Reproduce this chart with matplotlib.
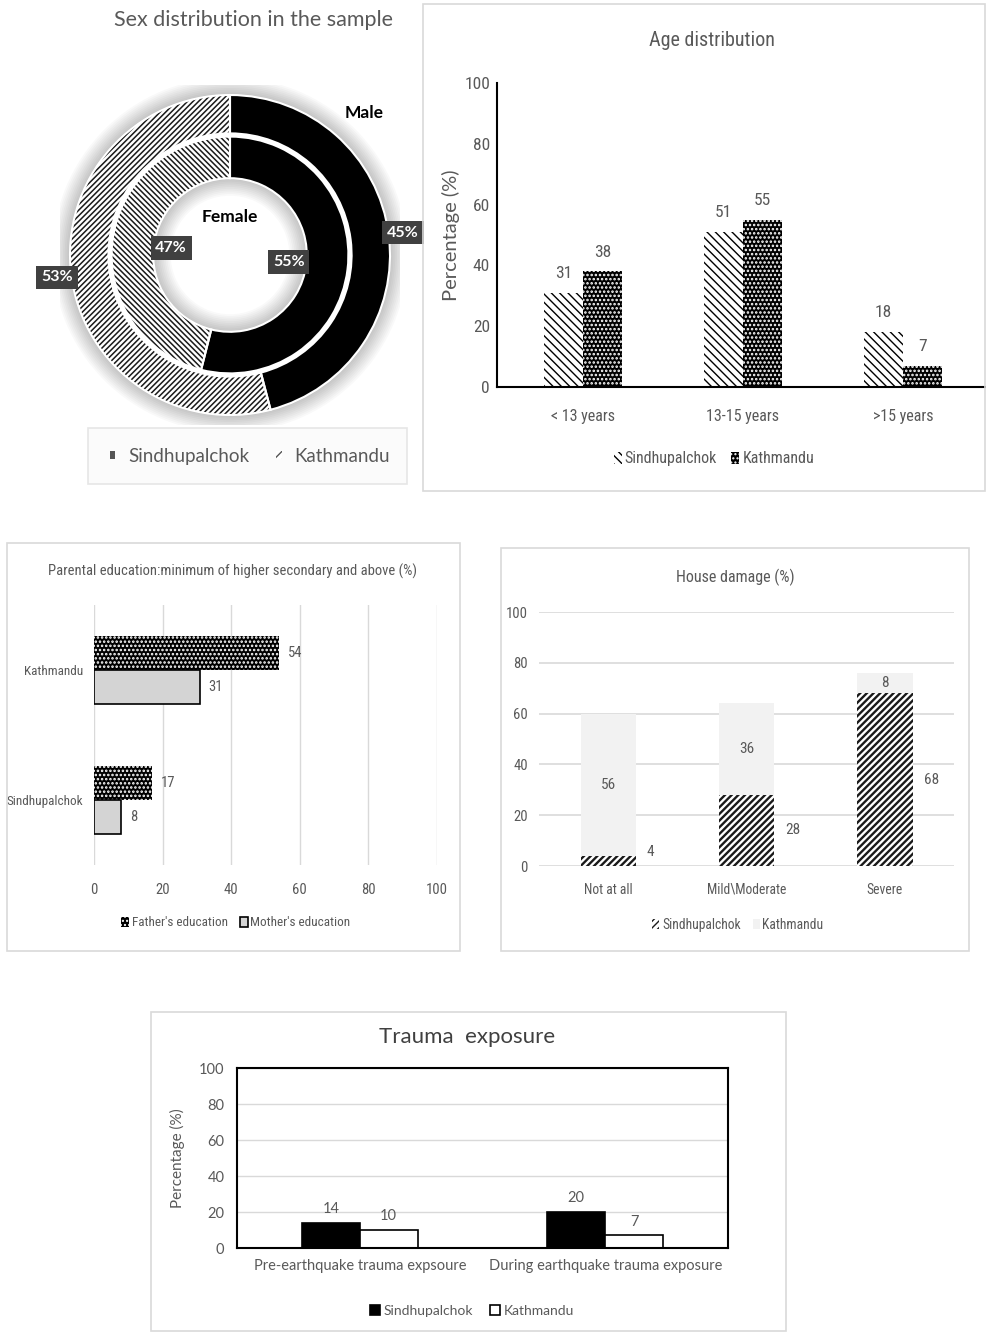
import matplotlib
matplotlib.use("Agg")
import matplotlib.pyplot as plt
import numpy as np
from matplotlib.patches import Rectangle, Wedge, Patch

# ---------------- data ----------------
sex_labels = ["Male", "Female"]
outer_pct = [45, 53]
inner_pct = [55, 47]

age_groups = ["< 13 years", "13-15 years", ">15 years"]
age_sindhu = [31, 51, 18]
age_kath = [38, 55, 7]

edu_sites = ["Sindhupalchok", "Kathmandu"]
father_edu = [17, 54]
mother_edu = [8, 31]

damage_levels = ["Not at all", "Mild\\Moderate", "Severe"]
damage_sindhu = [4, 28, 68]
damage_kath = [56, 36, 8]

trauma_types = ["Pre-earthquake trauma expsoure", "During earthquake trauma exposure"]
trauma_sindhu = [14, 20]
trauma_kath = [10, 7]

# ---------------- layout helpers ----------------
W, H = 986, 1332
fig = plt.figure(figsize=(W / 100, H / 100), dpi=100)
fig.patch.set_facecolor("white")

COND = ["Liberation Sans Narrow", "Roboto Condensed", "Noto Sans Condensed",
        "Open Sans Condensed", "Noto Sans ExtraCondensed", "Lato"]
CAL = ["Lato", "DejaVu Sans"]
GREY = "#595959"


def add_ax(l, t, r, b):
    return fig.add_axes([l / W, 1 - b / H, (r - l) / W, (b - t) / H])


def fig_text(x, y, s, **kw):
    kw.setdefault("ha", "center")
    kw.setdefault("va", "center")
    return fig.text(x / W, 1 - y / H, s, **kw)


def panel_box(l, t, r, b, ec="#d9d9d9", fc="none"):
    fig.patches.append(Rectangle((l / W, 1 - b / H), (r - l) / W, (b - t) / H,
                                 transform=fig.transFigure, facecolor=fc,
                                 edgecolor=ec, lw=1.2, zorder=0))


def fig_point(x, y):
    return (x / W, 1 - y / H)


# ---------------- sex distribution donut ----------------
ax = add_ax(60, 85, 400, 425)
ax.set_aspect("equal")
ax.axis("off")

# soft glow around the rings
for i in range(10):
    ax.add_patch(Wedge((0, 0), 1.0 + 0.011 * (i + 1), 0, 360, width=0.011 * (i + 1),
                       facecolor="black", alpha=0.022, lw=0, zorder=0))
    ax.add_patch(Wedge((0, 0), 0.48, 0, 360, width=0.011 * (i + 1),
                       facecolor="black", alpha=0.022, lw=0, zorder=0))

with plt.rc_context({"hatch.color": "#1a1a1a", "hatch.linewidth": 1.1}):
    ow, _ = ax.pie(outer_pct, radius=1.0, startangle=90, counterclock=False,
                   colors=["black", "white"], wedgeprops=dict(width=0.24))
    iw, _ = ax.pie(inner_pct, radius=0.74, startangle=90, counterclock=False,
                   colors=["black", "white"], wedgeprops=dict(width=0.26))
ow[1].set_hatch("//////")
iw[1].set_hatch("\\\\\\\\\\\\")
# white separators
ax.pie(outer_pct, radius=1.0, startangle=90, counterclock=False,
       wedgeprops=dict(width=0.24, fill=False, edgecolor="white", linewidth=1.5))
ax.pie(inner_pct, radius=0.74, startangle=90, counterclock=False,
       wedgeprops=dict(width=0.26, fill=False, edgecolor="white", linewidth=1.5))

for wedges, vals, dist in ((ow, outer_pct, 1.09), (iw, inner_pct, 0.37)):
    for w, v in zip(wedges, vals):
        mid = np.deg2rad((w.theta1 + w.theta2) / 2)
        ax.text(dist * np.cos(mid), dist * np.sin(mid), f"{v}%", ha="center", va="center",
                color="white", fontsize=11.5, fontweight="bold", family=CAL,
                bbox=dict(boxstyle="square,pad=0.3", fc="#404040", ec="none"), zorder=6)

ax.text(0.84, 0.89, sex_labels[0], ha="center", va="center", fontsize=12.5,
        fontweight="bold", family=CAL, color="black")
ax.text(0.0, 0.24, sex_labels[1], ha="center", va="center", fontsize=12.5,
        fontweight="bold", family=CAL, color="black")
ax.set_xlim(-1.0625, 1.0625)
ax.set_ylim(-1.0625, 1.0625)

fig_text(253, 20, "Sex distribution in the sample", fontsize=15.5, color=GREY, family=CAL)
panel_box(88, 428, 407, 484, ec="#e6e6e6", fc="#fbfbfb")
with plt.rc_context({"hatch.color": "#555555"}):
    h_s = Patch(facecolor="#555555")
    h_k = Patch(facecolor="white", hatch="////")
fig.legend([h_s, h_k], ["Sindhupalchok", "Kathmandu"], loc="center",
           bbox_to_anchor=fig_point(250, 456), ncol=2, frameon=False,
           prop=dict(family=CAL, size=13.5), labelcolor=GREY, handlelength=0.3,
           handleheight=0.3, handletextpad=0.7, columnspacing=1.4)

# ---------------- age distribution ----------------
panel_box(423, 4, 985, 491)
ax = add_ax(497, 83, 985, 387)
x = np.arange(len(age_groups))
bw = 0.244
b1 = ax.bar(x - bw / 2, age_sindhu, bw, color="white", hatch="\\\\\\\\",
            label="Sindhupalchok", zorder=2)
with plt.rc_context({"hatch.color": "white", "hatch.linewidth": 1.2}):
    b2 = ax.bar(x + bw / 2, age_kath, bw, color="black", hatch="....",
                label="Kathmandu", zorder=2)
for bars, vals in ((b1, age_sindhu), (b2, age_kath)):
    for rect, v in zip(bars, vals):
        ax.annotate(str(v), (rect.get_x() + rect.get_width() / 2, v), xytext=(0, 14),
                    textcoords="offset points", ha="center", va="center",
                    fontsize=12.5, color=GREY, family=COND)
ax.set_xlim(-0.5375, 2.5125)
ax.set_ylim(0, 100)
ax.set_yticks(range(0, 101, 20))
ax.set_xticks(x)
ax.set_xticklabels(age_groups)
for s in ("top", "right"):
    ax.spines[s].set_visible(False)
for s in ("left", "bottom"):
    ax.spines[s].set_linewidth(1.5)
    ax.spines[s].set_color("black")
ax.tick_params(axis="y", length=0, pad=5, labelsize=12.5, labelcolor=GREY)
ax.tick_params(axis="x", length=0, pad=16, labelsize=11.5, labelcolor=GREY)
for lab in ax.get_xticklabels() + ax.get_yticklabels():
    lab.set_family(COND)
ax.set_ylabel("Percentage (%)", fontsize=14.5, color=GREY, family=CAL)
ax.yaxis.set_label_coords(-0.075, 0.5)
fig_text(712, 40, "Age distribution", fontsize=14.5, color=GREY, family=COND)
fig.legend(handles=[b1, b2], loc="center", bbox_to_anchor=fig_point(714, 459), ncol=2,
           frameon=False, prop=dict(family=COND, size=11.5), labelcolor=GREY,
           handlelength=0.5, handleheight=0.8, handletextpad=0.2, columnspacing=0.9)

# ---------------- parental education ----------------
panel_box(7, 543, 460, 951)
ax = add_ax(94, 605, 437, 865)
y = np.arange(len(edu_sites))
bh = 0.265
with plt.rc_context({"hatch.color": "white", "hatch.linewidth": 1.2}):
    f_b = ax.barh(y + bh / 2, father_edu, bh, color="black", hatch="....",
                  label="Father's education", zorder=2)
m_b = ax.barh(y - bh / 2, mother_edu, bh, color="#d4d4d4", edgecolor="black", lw=1.2,
              label="Mother's education", zorder=2)
for bars, vals in ((f_b, father_edu), (m_b, mother_edu)):
    for rect, v in zip(bars, vals):
        ax.annotate(str(v), (v, rect.get_y() + rect.get_height() / 2), xytext=(6, 0),
                    textcoords="offset points", ha="left", va="center",
                    fontsize=10.5, color=GREY, family=COND)
ax.set_xlim(0, 100)
ax.set_ylim(-0.5, 1.5)
ax.set_xticks(range(0, 101, 20))
ax.set_yticks(y)
ax.set_yticklabels(edu_sites)
ax.grid(axis="x", color="#d9d9d9", lw=1)
ax.set_axisbelow(True)
for s in ax.spines.values():
    s.set_visible(False)
ax.tick_params(axis="x", length=0, pad=13, labelsize=10.5, labelcolor=GREY)
ax.tick_params(axis="y", length=0, pad=8, labelsize=9.5, labelcolor=GREY)
for lab in ax.get_xticklabels() + ax.get_yticklabels():
    lab.set_family(COND)
fig_text(233, 571, "Parental education:minimum of higher secondary and above (%)",
         fontsize=10.5, color=GREY, family=COND)
fig.legend(handles=[f_b, m_b], loc="center", bbox_to_anchor=fig_point(236, 923), ncol=2,
           frameon=False, prop=dict(family=COND, size=9.5), labelcolor=GREY,
           handlelength=0.6, handleheight=0.8, handletextpad=0.2, columnspacing=0.9)

# ---------------- house damage ----------------
panel_box(501, 548, 969, 951)
ax = add_ax(539, 612, 954, 866)
x = np.arange(len(damage_levels))
bw = 0.4
with plt.rc_context({"hatch.color": "#1a1a1a", "hatch.linewidth": 1.7}):
    s_b = ax.bar(x, damage_sindhu, bw, color="white", hatch="/////",
                 label="Sindhupalchok", zorder=2)
k_b = ax.bar(x, damage_kath, bw, bottom=damage_sindhu, color="#f2f2f2",
             label="Kathmandu", zorder=2)
for xi, s, k in zip(x, damage_sindhu, damage_kath):
    ax.text(xi, s + k / 2, str(k), ha="center", va="center", fontsize=11,
            color=GREY, family=COND)
    ax.annotate(str(s), (xi + bw / 2, max(s / 2, 5.5)), xytext=(8, 0),
                textcoords="offset points", ha="left", va="center",
                fontsize=11, color=GREY, family=COND)
ax.set_xlim(-0.5, 2.5)
ax.set_ylim(0, 100)
ax.set_yticks(range(0, 101, 20))
ax.set_xticks(x)
ax.set_xticklabels(damage_levels)
ax.grid(axis="y", color="#d9d9d9", lw=1.2)
ax.set_axisbelow(True)
for s in ax.spines.values():
    s.set_visible(False)
ax.tick_params(axis="y", length=0, pad=8, labelsize=10.5, labelcolor=GREY)
ax.tick_params(axis="x", length=0, pad=12, labelsize=9.8, labelcolor=GREY)
for lab in ax.get_xticklabels() + ax.get_yticklabels():
    lab.set_family(COND)
fig_text(735, 577, "House damage (%)", fontsize=11.5, color=GREY, family=COND)
fig.legend(handles=[s_b, k_b], loc="center", bbox_to_anchor=fig_point(738, 925), ncol=2,
           frameon=False, prop=dict(family=COND, size=9.8), labelcolor=GREY,
           handlelength=0.5, handleheight=0.7, handletextpad=0.2, columnspacing=0.9)

# ---------------- trauma exposure ----------------
panel_box(151, 1012, 786, 1331)
ax = add_ax(237, 1068, 728, 1248)
x = np.arange(len(trauma_types))
bw = 0.236
t1 = ax.bar(x - bw / 2, trauma_sindhu, bw, color="black", edgecolor="black", lw=1.2,
            label="Sindhupalchok", zorder=2)
t2 = ax.bar(x + bw / 2, trauma_kath, bw, color="white", edgecolor="black", lw=1.2,
            label="Kathmandu", zorder=2)
for bars, vals in ((t1, trauma_sindhu), (t2, trauma_kath)):
    for rect, v in zip(bars, vals):
        ax.annotate(str(v), (rect.get_x() + rect.get_width() / 2, v), xytext=(0, 10),
                    textcoords="offset points", ha="center", va="center",
                    fontsize=10.5, color=GREY, family=CAL)
ax.set_xlim(-0.5, 1.5)
ax.set_ylim(0, 100)
ax.set_yticks(range(0, 101, 20))
ax.set_xticks(x)
ax.set_xticklabels(trauma_types)
ax.grid(axis="y", color="#d9d9d9", lw=1)
ax.set_axisbelow(True)
for s in ax.spines.values():
    s.set_linewidth(1.5)
    s.set_color("black")
ax.tick_params(axis="y", length=0, pad=9, labelsize=10.5, labelcolor=GREY)
ax.tick_params(axis="x", length=0, pad=8, labelsize=10.5, labelcolor=GREY)
for lab in ax.get_xticklabels() + ax.get_yticklabels():
    lab.set_family(CAL)
ax.set_ylabel("Percentage (%)", fontsize=11, color=GREY, family=CAL)
ax.yaxis.set_label_coords(-0.106, 0.5)
fig_text(467, 1037, "Trauma  exposure", fontsize=16, color="#404040", family=CAL)
fig.legend(handles=[t1, t2], loc="center", bbox_to_anchor=fig_point(472, 1311), ncol=2,
           frameon=False, prop=dict(family=CAL, size=10), labelcolor=GREY,
           handlelength=0.7, handleheight=0.7, handletextpad=0.3, columnspacing=1.2)

fig.savefig("out.png", dpi=100, facecolor="white")
